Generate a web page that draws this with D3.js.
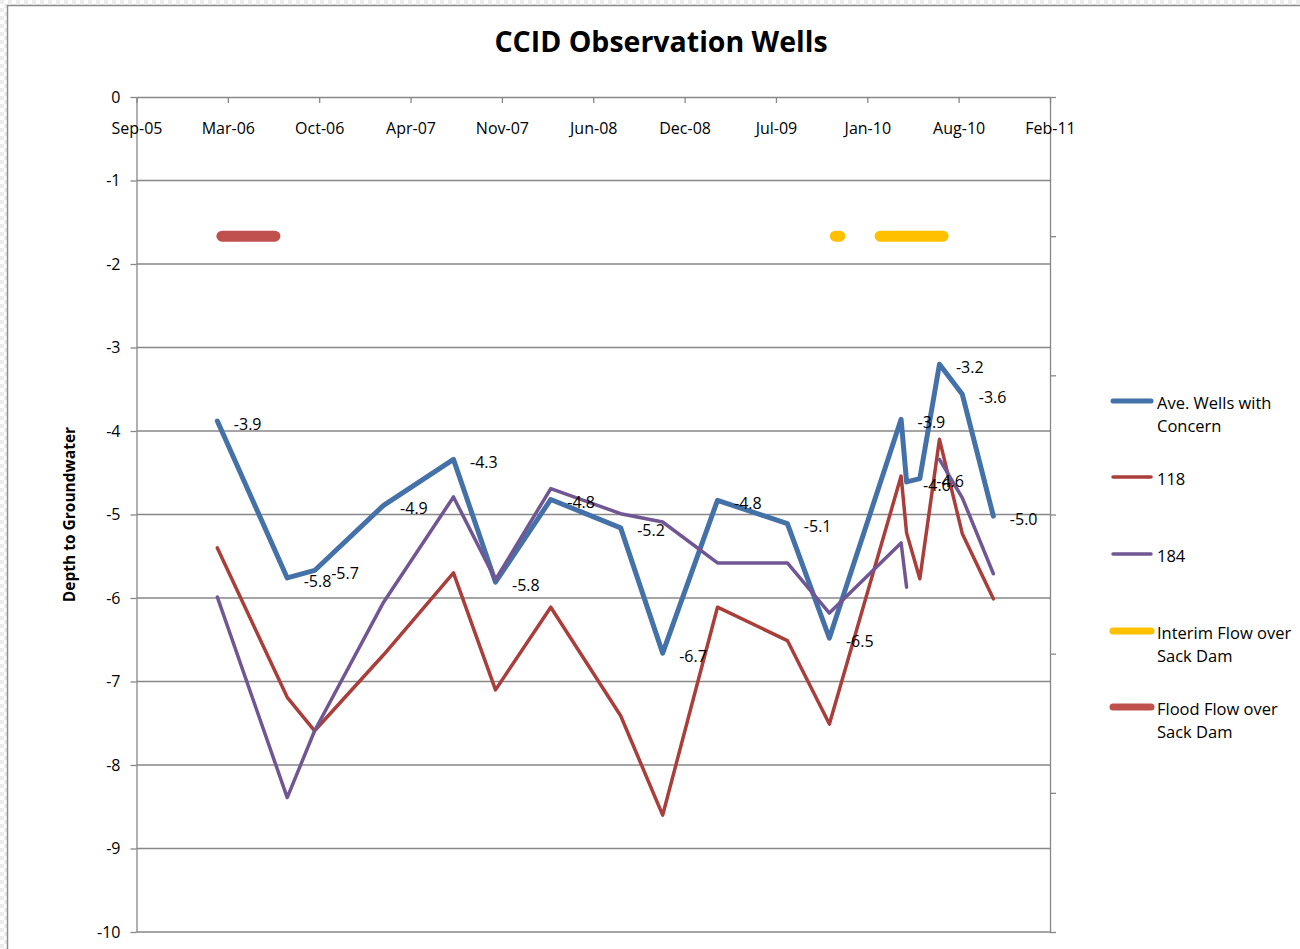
<!DOCTYPE html>
<html><head><meta charset="utf-8">
<script src="https://cdn.jsdelivr.net/npm/d3@7"></script>
<style>html,body{margin:0;padding:0;background:#fff;} svg{display:block;font-family:"Open Sans",sans-serif;}</style>
</head><body><svg id="c" width="1300" height="949"></svg>
<script>
// ---- data ----
const dates = ["2006-03-02","2006-08-02","2006-10-01","2007-03-01","2007-08-01","2007-11-01","2008-03-01","2008-08-01","2008-11-01","2009-03-01","2009-08-01","2009-11-01","2010-04-07","2010-04-19","2010-05-18","2010-06-30","2010-08-19","2010-10-26"];
const aveWells = [-3.88,-5.76,-5.67,-4.89,-4.34,-5.81,-4.82,-5.16,-6.66,-4.83,-5.11,-6.48,-3.86,-4.61,-4.57,-3.20,-3.56,-5.02];
const well118 = [-5.40,-7.19,-7.59,-6.68,-5.70,-7.10,-6.11,-7.41,-8.60,-6.11,-6.51,-7.51,-4.54,-5.22,-5.77,-4.10,-5.23,-6.01];
const well184 = [-5.99,-8.39,-7.59,-6.05,-4.79,-5.78,-4.69,-4.99,-5.09,-5.58,-5.58,-6.18,-5.34,-5.87,null,-4.34,-4.80,-5.71];
const floodDates = ["2006-03-12","2006-07-06"];
const floodFlow = [1,1];
const interimDates = ["2009-11-14","2009-11-24","2010-01-01","2010-02-20","2010-07-08"];
const interimFlow = [1,1,null,1,1];
const xTickLabels = ["Sep-05","Mar-06","Oct-06","Apr-07","Nov-07","Jun-08","Dec-08","Jul-09","Jan-10","Aug-10","Feb-11"];
const xStart = "2005-09-06";
const xStepDays = 200;
const yTicks = [0,-1,-2,-3,-4,-5,-6,-7,-8,-9,-10];
const y2Ticks = [0,1,2,3,4,5,6];
const legendLabels = [["Ave. Wells with","Concern"],["118"],["184"],["Interim Flow over","Sack Dam"],["Flood Flow over","Sack Dam"]];
const titleText = "CCID Observation Wells";
const yTitle = "Depth to Groundwater";

(function () {
// ---- setup ----
const svg = d3.select("#c");
const parse = d3.timeParse("%Y-%m-%d");
const pL = 136.5, pR = 1050, pT = 97, pB = 932;
const t0 = parse(xStart);
const tickDates = xTickLabels.map((_, i) => d3.timeDay.offset(t0, i * xStepDays));
const x = d3.scaleTime().domain([t0, tickDates[tickDates.length - 1]]).range([pL, pR]);
const y = d3.scaleLinear().domain([0, -10]).range([pT, pB]);
const y2 = d3.scaleLinear().domain([0, 6]).range([pT, pB]);
const gridColor = "#878787";

// background checker + frame
const defs = svg.append("defs");
const pat = defs.append("pattern").attr("id","chk").attr("width",8).attr("height",8).attr("patternUnits","userSpaceOnUse");
pat.append("rect").attr("width",8).attr("height",8).attr("fill","#fff");
pat.append("rect").attr("width",4).attr("height",4).attr("fill","#ececec");
pat.append("rect").attr("x",4).attr("y",4).attr("width",4).attr("height",4).attr("fill","#ececec");
svg.append("rect").attr("width",1300).attr("height",949).attr("fill","url(#chk)");
svg.append("rect").attr("x",7.5).attr("y",5.5).attr("width",1400).attr("height",1000)
  .attr("fill","#fff").attr("stroke","#8c8c8c").attr("stroke-width",1.5);

// gridlines
svg.append("g").selectAll("line").data(yTicks.filter(d => d !== 0)).join("line")
  .attr("x1", pL).attr("x2", pR).attr("y1", d => y(d)).attr("y2", d => y(d))
  .attr("stroke", gridColor).attr("stroke-width", 1.3);

function styleAxis(g) {
  g.selectAll("path,line").attr("stroke", gridColor).attr("stroke-width", 1.3);
  g.selectAll("text").attr("fill", "#000").style("font-size", "16px").style("font-family", "'Open Sans',sans-serif");
}

// left axis
svg.append("g").attr("transform", `translate(${pL},0)`)
  .call(d3.axisLeft(y).tickValues(yTicks).tickFormat(d => String(d)).tickSize(6).tickSizeOuter(0).tickPadding(10))
  .call(styleAxis);

// right (secondary) axis
svg.append("g").attr("transform", `translate(${pR},0)`)
  .call(d3.axisRight(y2).tickValues(y2Ticks).tickFormat("").tickSize(6).tickSizeOuter(0))
  .call(styleAxis);

// top date axis
svg.append("g").attr("transform", `translate(0,${pT})`)
  .call(d3.axisBottom(x).tickValues(tickDates).tickFormat((d, i) => xTickLabels[i]).tickSize(6).tickSizeOuter(0).tickPadding(20))
  .call(styleAxis);

// series lines
function rows(ds, vs) { return ds.map((d, i) => ({ date: parse(d), v: vs[i] })); }
const lineW = d3.line().defined(d => d.v != null).x(d => x(d.date)).y(d => y(d.v));
const lineF = d3.line().defined(d => d.v != null).x(d => x(d.date)).y(d => y2(d.v));

const blueRows = rows(dates, aveWells);
svg.append("path").datum(blueRows).attr("d", lineW).attr("fill","none")
  .attr("stroke","#4472A8").attr("stroke-width",5).attr("stroke-linejoin","round").attr("stroke-linecap","round");
svg.append("path").datum(rows(dates, well118)).attr("d", lineW).attr("fill","none")
  .attr("stroke","#AA3E3B").attr("stroke-width",3.5).attr("stroke-linejoin","round").attr("stroke-linecap","round");
svg.append("path").datum(rows(dates, well184)).attr("d", lineW).attr("fill","none")
  .attr("stroke","#705793").attr("stroke-width",3.5).attr("stroke-linejoin","round").attr("stroke-linecap","round");
svg.append("path").datum(rows(interimDates, interimFlow)).attr("d", lineF).attr("fill","none")
  .attr("stroke","#FFC000").attr("stroke-width",11).attr("stroke-linecap","round");
svg.append("path").datum(rows(floodDates, floodFlow)).attr("d", lineF).attr("fill","none")
  .attr("stroke","#C0504D").attr("stroke-width",11).attr("stroke-linecap","round");

// data labels (blue series)
svg.append("g").selectAll("text").data(blueRows).join("text")
  .attr("x", d => x(d.date) + 16.5).attr("y", d => y(d.v) + 3).attr("dy", "0.35em")
  .style("font-size","16px").attr("fill","#000")
  .text(d => d.v.toFixed(1));

// title
svg.append("text").attr("x", 661).attr("y", 52).attr("text-anchor","middle")
  .style("font-size","28.5px").style("font-weight","bold").attr("fill","#000").text(titleText);

// y title
svg.append("text").attr("transform", `translate(70,${(pT+pB)/2}) rotate(-90)`)
  .attr("text-anchor","middle").attr("dy","0.35em")
  .style("font-size","15.5px").style("font-weight","bold").attr("fill","#000").text(yTitle);

// legend
const legendStyles = [
  {c:"#4472A8", w:5}, {c:"#AA3E3B", w:3.5}, {c:"#705793", w:3.5}, {c:"#FFC000", w:7}, {c:"#C0504D", w:7}
];
const legY = [401, 477, 554, 631, 707];
const lg = svg.append("g");
legendLabels.forEach((lines, i) => {
  lg.append("line").attr("x1", 1113).attr("x2", 1151).attr("y1", legY[i]).attr("y2", legY[i])
    .attr("stroke", legendStyles[i].c).attr("stroke-width", legendStyles[i].w).attr("stroke-linecap","round");
  lines.forEach((t, j) => {
    lg.append("text").attr("x", 1157).attr("y", legY[i] + 2 + j * 23).attr("dy","0.35em")
      .style("font-size","16.5px").attr("fill","#000").text(t);
  });
});
})();
</script></body></html>
